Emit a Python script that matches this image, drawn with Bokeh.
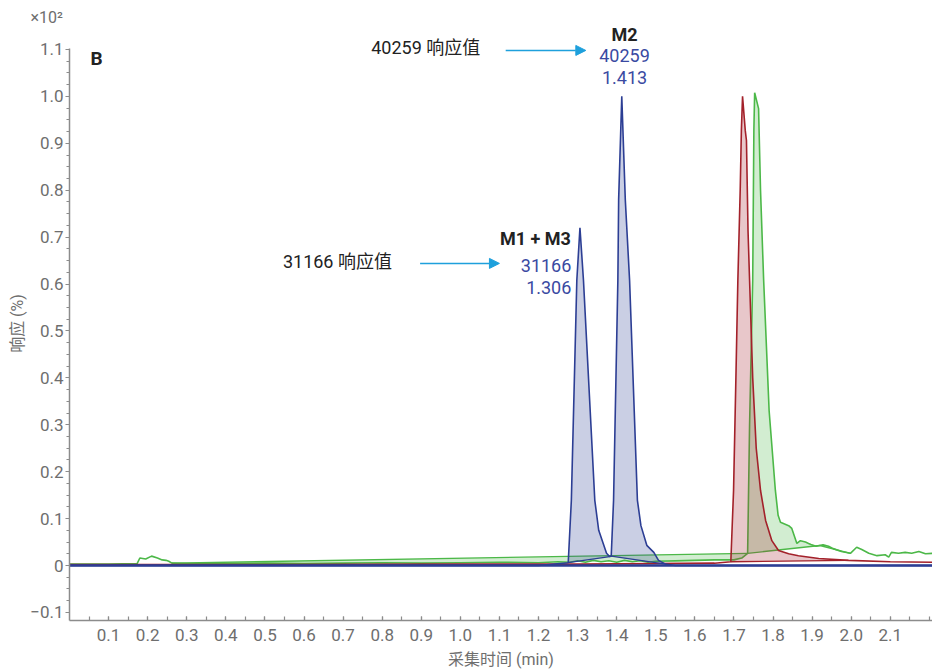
import numpy as np
from bokeh.plotting import figure
from bokeh.models import Range1d, FixedTicker, Label, Arrow, NormalHead
from bokeh.embed import file_html
from bokeh.resources import INLINE

# ---------------- data (response in units of x10^2 %) ----------------
blue_t = [0.0, 1.20, 1.276, 1.284, 1.298, 1.306, 1.315, 1.344, 1.354, 1.374, 1.382,
          1.386, 1.392, 1.403, 1.405, 1.413, 1.422, 1.433, 1.453, 1.462, 1.477,
          1.495, 1.507, 1.525, 1.55, 2.208]
blue_y = [0.0, 0.0, 0.006, 0.139, 0.608, 0.72, 0.608, 0.139, 0.075, 0.026, 0.019,
          0.02, 0.139, 0.608, 0.78, 1.0, 0.78, 0.608, 0.139, 0.085, 0.043,
          0.028, 0.011, 0.003, 0.0, 0.0]
blue_windows = [(1.276, 1.382), (1.386, 1.525)]

red_t = [0.0, 0.5, 1.0, 1.3, 1.5, 1.65, 1.692, 1.699, 1.705, 1.710, 1.716, 1.719, 1.722,
         1.729, 1.732, 1.736, 1.740, 1.748, 1.757, 1.768, 1.781, 1.797, 1.814, 1.840,
         1.865, 1.917, 1.993, 2.10, 2.208]
red_y = [0.002, 0.002, 0.003, 0.003, 0.004, 0.005, 0.008, 0.16, 0.40, 0.608, 0.80, 0.927, 1.0,
         0.927, 0.906, 0.714, 0.608, 0.40, 0.25, 0.16, 0.096, 0.053, 0.032, 0.025,
         0.021, 0.015, 0.011, 0.008, 0.007]
red_windows = [(1.692, 1.993)]

green_t = [0.0, 0.10, 0.173, 0.180, 0.195, 0.210, 0.225, 0.237, 0.247, 0.254, 0.262,
           0.30, 0.40, 0.50, 0.60, 0.70, 0.80, 0.90, 1.00, 1.10, 1.20,
           1.25, 1.28, 1.30, 1.32, 1.34, 1.36, 1.38, 1.40, 1.42, 1.44,
           1.46, 1.48, 1.50, 1.55, 1.60, 1.65, 1.70, 1.72, 1.735, 1.740,
           1.748, 1.751, 1.753, 1.763, 1.768, 1.776, 1.790, 1.806, 1.813, 1.819,
           1.840, 1.848, 1.861, 1.870, 1.883, 1.891, 1.897, 1.910, 1.928, 1.942,
           1.954, 1.975, 1.998, 2.014, 2.027, 2.045, 2.066, 2.087, 2.096, 2.103,
           2.121, 2.138, 2.155, 2.173, 2.190, 2.208]
green_y = [0.003, 0.003, 0.004, 0.016, 0.014, 0.020, 0.016, 0.012, 0.011, 0.009, 0.005,
           0.004, 0.004, 0.005, 0.004, 0.005, 0.006, 0.005, 0.006, 0.007, 0.006,
           0.008, 0.007, 0.010, 0.007, 0.011, 0.008, 0.010, 0.007, 0.011, 0.008,
           0.010, 0.007, 0.009, 0.010, 0.011, 0.012, 0.012, 0.016, 0.026, 0.30,
           0.608, 0.93, 1.008, 0.974, 0.80, 0.608, 0.33, 0.16, 0.107, 0.092,
           0.085, 0.079, 0.047, 0.053, 0.050, 0.047, 0.045, 0.041, 0.044, 0.041,
           0.036, 0.030, 0.026, 0.039, 0.034, 0.026, 0.021, 0.023, 0.018, 0.028,
           0.026, 0.028, 0.026, 0.030, 0.025, 0.026]
green_windows = [(0.262, 1.735), (1.735, 1.920), (1.920, 1.998)]

x_ticks = [0.1, 0.2, 0.3, 0.4, 0.5, 0.6, 0.7, 0.8, 0.9, 1.0, 1.1,
           1.2, 1.3, 1.4, 1.5, 1.6, 1.7, 1.8, 1.9, 2.0, 2.1]
x_labels = ["0.1", "0.2", "0.3", "0.4", "0.5", "0.6", "0.7", "0.8", "0.9", "1.0", "1.1",
            "1.2", "1.3", "1.4", "1.5", "1.6", "1.7", "1.8", "1.9", "2.0", "2.1"]
y_ticks = [-0.1, 0, 0.1, 0.2, 0.3, 0.4, 0.5, 0.6, 0.7, 0.8, 0.9, 1.0, 1.1]
y_labels = ["\u22120.1", "0", "0.1", "0.2", "0.3", "0.4", "0.5", "0.6", "0.7", "0.8",
            "0.9", "1.0", "1.1"]

peak_names = ["M2", "M1 + M3"]
peak_areas = ["40259", "31166"]
peak_rts = ["1.413", "1.306"]
callouts = ["40259 响应值", "31166 响应值"]
panel_tag = "B"
scale_note = "×10²"
x_title = "采集时间 (min)"
y_title = "响应 (%)"

# ---------------- styles ----------------
BLUE, RED, GREEN = "#2C3E94", "#A3212A", "#4CB848"
TXT_BLUE = "#3A4AA2"
ARROW = "#1EA0DC"
GRAY = "#6E6E6E"
AXIS = "#8C8C8C"
FONT_S = "Roboto, 'Noto Sans CJK SC'"

Y0, Y1 = -0.1172, 1.149

p = figure(width=932, height=672, output_backend="svg", toolbar_location=None,
           x_range=Range1d(0, 2.208), y_range=Range1d(Y0, Y1),
           min_border_left=69, min_border_right=0, min_border_top=26,
           min_border_bottom=52)
p.grid.visible = False
p.outline_line_color = None
p.background_fill_color = "white"
p.border_fill_color = "white"

# "x10^2" scale note as a left-aligned title above the frame
p.title.text = scale_note
p.title.align = "left"
p.title.offset = -39
p.title.standoff = 0
p.title.text_font = FONT_S
p.title.text_font_size = "16px"
p.title.text_font_style = "normal"
p.title.text_color = GRAY


def overrides(ticks, labels):
    d = {}
    for t, l in zip(ticks, labels):
        d[float(t)] = l
        d[f"{t:g}"] = l
    return d


xa = p.xaxis[0]
xa.ticker = FixedTicker(ticks=x_ticks, minor_ticks=[round(0.05 * i, 2) for i in range(1, 45)])
xa.major_label_overrides = overrides(x_ticks, x_labels)
xa.major_tick_in, xa.major_tick_out = 4, 0
xa.minor_tick_in, xa.minor_tick_out = 4, 0
xa.major_label_standoff = 8
xa.axis_label = x_title
xa.axis_label_standoff = 6

ya = p.yaxis[0]
ya.ticker = FixedTicker(ticks=y_ticks, minor_ticks=[round(-0.1 + 0.025 * i, 3) for i in range(0, 49)])
ya.major_label_overrides = overrides(y_ticks, y_labels)
ya.bounds = (Y0, 1.102)
ya.major_tick_in, ya.major_tick_out = 0, 4
ya.minor_tick_in, ya.minor_tick_out = 0, 3
ya.major_label_standoff = 2
ya.axis_label = y_title
ya.axis_label_standoff = 0

for ax in (xa, ya):
    ax.axis_line_color = AXIS
    ax.axis_line_width = 1.5
    ax.major_tick_line_color = AXIS
    ax.minor_tick_line_color = AXIS
    ax.major_tick_line_width = 1.2
    ax.minor_tick_line_width = 1.2
    ax.major_label_text_font = FONT_S
    ax.major_label_text_font_size = "17px"
    ax.major_label_text_color = GRAY
    ax.axis_label_text_font = FONT_S
    ax.axis_label_text_font_size = "16px"
    ax.axis_label_text_font_style = "normal"
    ax.axis_label_text_color = GRAY


def draw_series(t, y, windows, color):
    t = np.asarray(t, dtype=float)
    y = np.asarray(y, dtype=float)
    for a, b in windows:
        ya_, yb_ = np.interp(a, t, y), np.interp(b, t, y)
        m = (t > a) & (t < b)
        xs = np.concatenate([[a], t[m], [b]])
        ys = np.concatenate([[ya_], y[m], [yb_]])
        p.patch(xs, ys, fill_color=color, fill_alpha=0.25, line_color=None)
        p.line([a, b], [ya_, yb_], line_color=color, line_width=1.3)
    p.line(t, y, line_color=color, line_width=1.6)


draw_series(green_t, green_y, green_windows, GREEN)
draw_series(red_t, red_y, red_windows, RED)
draw_series(blue_t, blue_y, blue_windows, BLUE)
p.line([blue_t[0], blue_t[-1]], [blue_y[0], blue_y[-1]], line_color=BLUE, line_width=2.6)


def label(x, y, text, color="#222222", align="center", bold=False, size="18px"):
    p.add_layout(Label(x=x, y=y, text=text, text_font=FONT_S, text_font_size=size,
                       text_color=color, text_align=align, text_baseline="middle",
                       text_font_style="bold" if bold else "normal"))


# M2 annotation
label(1.42, 1.132, peak_names[0], bold=True)
label(1.42, 1.087, peak_areas[0], color=TXT_BLUE)
label(1.42, 1.041, peak_rts[0], color=TXT_BLUE)
label(1.051, 1.104, callouts[0], align="right")
p.add_layout(Arrow(x_start=1.116, y_start=1.098, x_end=1.321, y_end=1.098,
                   line_color=ARROW, line_width=1.5,
                   end=NormalHead(size=10, fill_color=ARROW, line_color=ARROW)))

# M1 + M3 annotation
label(1.192, 0.697, peak_names[1], bold=True)
label(1.284, 0.640, peak_areas[1], color=TXT_BLUE, align="right")
label(1.284, 0.593, peak_rts[1], color=TXT_BLUE, align="right")
label(0.825, 0.648, callouts[1], align="right")
p.add_layout(Arrow(x_start=0.897, y_start=0.644, x_end=1.100, y_end=0.644,
                   line_color=ARROW, line_width=1.5,
                   end=NormalHead(size=10, fill_color=ARROW, line_color=ARROW)))

label(0.054, 1.081, panel_tag, align="left", bold=True, size="19px")

open("out.html", "w").write(file_html(p, INLINE))
